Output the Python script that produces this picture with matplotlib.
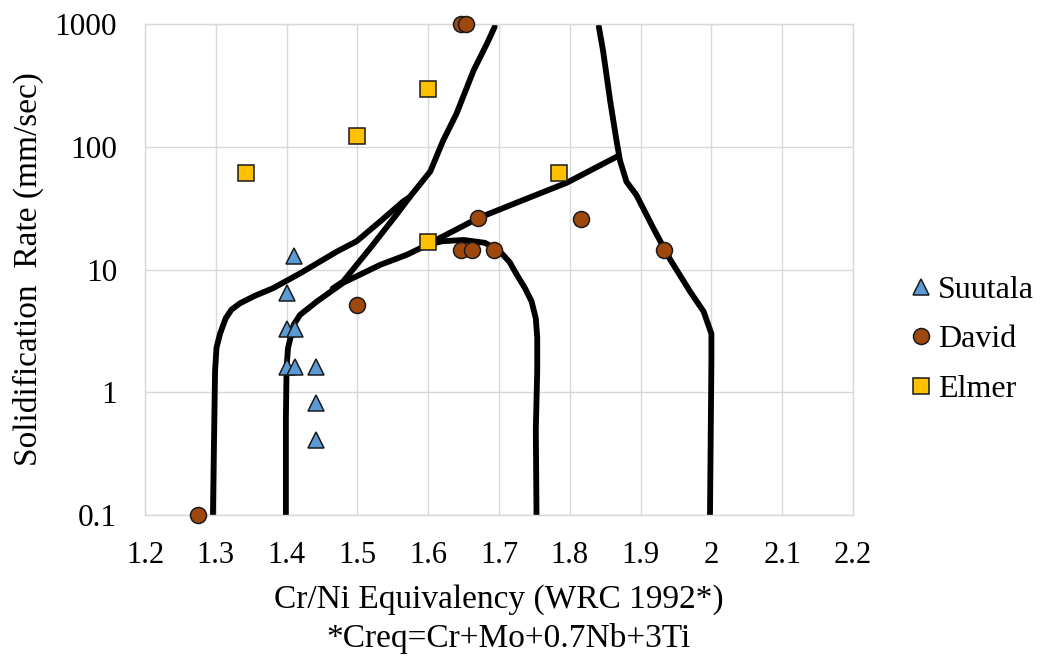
import matplotlib.pyplot as plt

# scatter data (Cr/Ni equivalency, solidification rate)
suutala_x = [1.41, 1.40, 1.40, 1.412, 1.40, 1.412, 1.441, 1.441, 1.441]
suutala_y = [13, 6.4, 3.25, 3.25, 1.6, 1.6, 1.6, 0.82, 0.41]

david_x = [1.275, 1.499, 1.647, 1.654, 1.670, 1.647, 1.662, 1.693, 1.816, 1.933]
david_y = [0.1, 5.1, 1000, 1000, 26.4, 14.5, 14.5, 14.5, 26, 14.5]

elmer_x = [1.342, 1.500, 1.600, 1.600, 1.785]
elmer_y = [61.5, 123, 295, 16.9, 61.5]

# hand drawn boundary curves
left_x = [1.296, 1.297, 1.299, 1.301, 1.306, 1.314, 1.322, 1.334, 1.355, 1.381, 1.419,
          1.471, 1.499, 1.532, 1.565, 1.574, 1.603, 1.621, 1.640, 1.664, 1.683, 1.694]
left_y = [0.1, 0.26, 1.5, 2.3, 3.0, 4.0, 4.7, 5.3, 6.1, 7.05, 9.3,
          14, 17, 24.6, 36, 39, 63, 112, 186, 417, 692, 950]

diag_x = [1.465, 1.480, 1.518, 1.555, 1.574]
diag_y = [7.0, 8.0, 14.9, 27.9, 39]

mid_x = [1.399, 1.399, 1.400, 1.402, 1.410, 1.419, 1.443, 1.480, 1.532, 1.570,
         1.600, 1.612, 1.671, 1.730, 1.796, 1.868]
mid_y = [0.1, 0.6, 1.6, 2.29, 3.55, 4.27, 5.5, 7.8, 10.9, 13.2,
         16, 17.5, 26.3, 36, 51, 84]

dome_x = [1.600, 1.620, 1.650, 1.680, 1.700, 1.715, 1.725, 1.737, 1.746, 1.752,
          1.754, 1.754, 1.752, 1.753]
dome_y = [16, 17, 17.4, 16.5, 14.3, 11.5, 9.1, 7.0, 5.5, 4.0,
          2.8, 1.5, 0.5, 0.1]

right_x = [1.841, 1.847, 1.857, 1.866, 1.871, 1.880, 1.894, 1.918, 1.942, 1.970,
           1.989, 2.000, 2.000, 1.998]
right_y = [950, 605, 237, 112, 77, 52, 40.5, 21.7, 12, 6.6,
           4.55, 3.0, 1.8, 0.1]

x_ticks = [1.2, 1.3, 1.4, 1.5, 1.6, 1.7, 1.8, 1.9, 2.0, 2.1, 2.2]
x_labels = ["1.2", "1.3", "1.4", "1.5", "1.6", "1.7", "1.8", "1.9", "2", "2.1", "2.2"]
y_ticks = [0.1, 1, 10, 100, 1000]
y_labels = ["0.1", "1", "10", "100", "1000"]

plt.rcParams['font.family'] = ['Liberation Serif', 'DejaVu Serif']

fig = plt.figure(figsize=(10.4, 6.56), dpi=100)
ax = fig.add_axes([0.1394, 0.2149, 0.6808, 0.7485])

grid = '#D9D9D9'
ax.set_yscale('log')
ax.set_xlim(1.2, 2.2)
ax.set_ylim(0.1, 1000)
ax.set_xticks(x_ticks)
ax.set_xticklabels(x_labels, fontsize=22)
ax.set_yticks(y_ticks)
ax.set_yticklabels(y_labels, fontsize=22.5)
ax.minorticks_off()
ax.tick_params(axis='x', length=0, pad=19)
ax.tick_params(axis='y', length=0, pad=20)
ax.grid(True, color=grid, linewidth=1)
ax.set_axisbelow(True)
for s in ax.spines.values():
    s.set_color(grid)
    s.set_linewidth(1)

for cx, cy in [(left_x, left_y), (diag_x, diag_y), (mid_x, mid_y),
               (dome_x, dome_y), (right_x, right_y)]:
    ax.plot(cx, cy, color='black', linewidth=4.2, solid_capstyle='round',
            solid_joinstyle='round', zorder=2)

mk = dict(linestyle='none', markersize=11.5, markeredgecolor='#1a1a1a',
          markeredgewidth=1.1, clip_on=False, zorder=3)
ax.plot(suutala_x, suutala_y, marker='^', color='#5B9BD5', label='Suutala', **mk)
ax.plot(david_x, david_y, marker='o', color='#9E480E', label='David', **mk)
ax.plot(elmer_x, elmer_y, marker='s', color='#FFC000', label='Elmer', **mk)

ax.set_ylabel('Solidification  Rate (mm/sec)', fontsize=24, labelpad=8)
ax.set_xlabel('Cr/Ni Equivalency (WRC 1992*)', fontsize=24, labelpad=10)
fig.text(0.489, 0.027, '*Creq=Cr+Mo+0.7Nb+3Ti', fontsize=24, ha='center',
         va='center')

fig.legend(loc='center left', bbox_to_anchor=(0.876, 0.482), frameon=False,
           fontsize=23, handlelength=0.6, handletextpad=0.25, labelspacing=0.64,
           borderpad=0, borderaxespad=0)

fig.savefig('out.png', dpi=100)
